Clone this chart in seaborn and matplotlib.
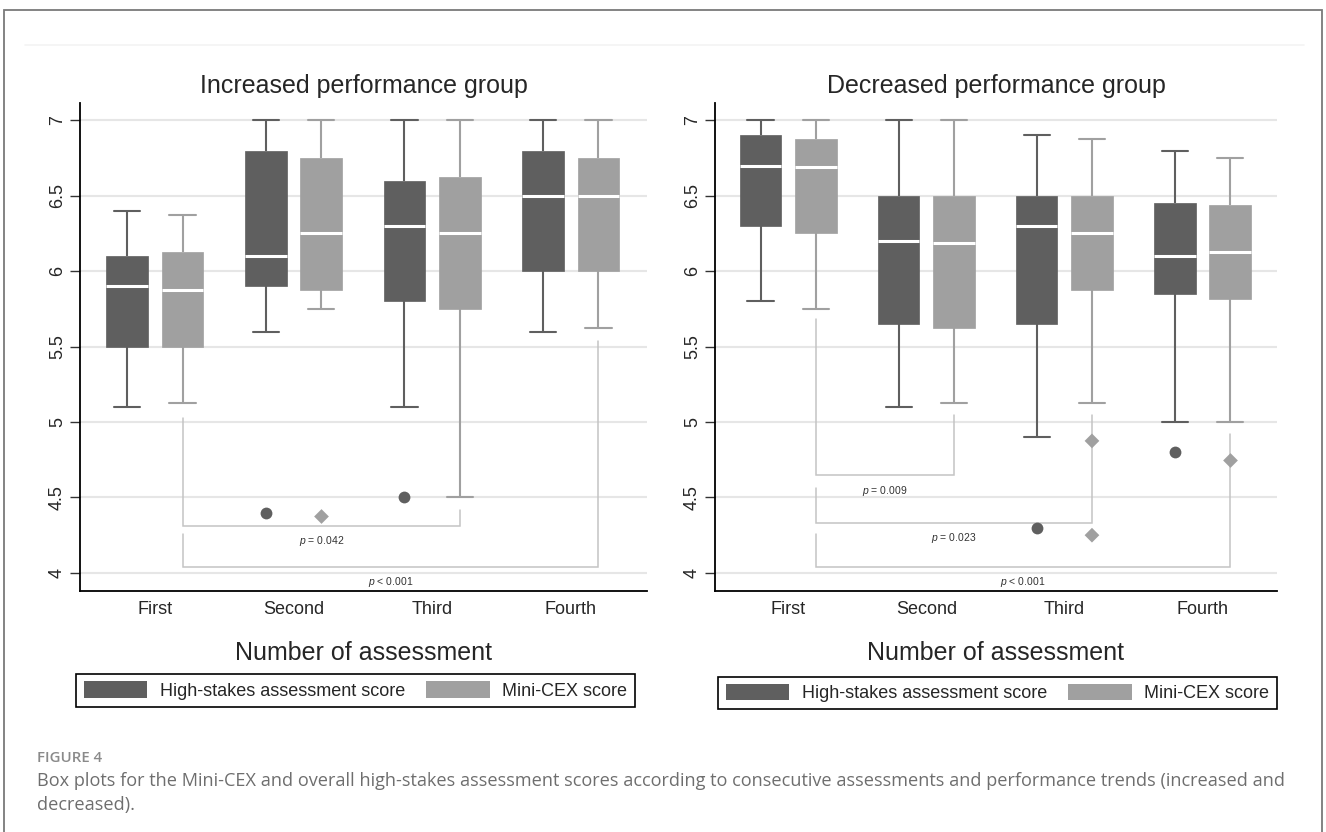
import numpy as np
import pandas as pd
import matplotlib
matplotlib.use("Agg")
import matplotlib.pyplot as plt
from matplotlib.patches import Patch, Rectangle
from matplotlib.lines import Line2D
import seaborn as sns

# ---------------- data ----------------
categories = ["First", "Second", "Third", "Fourth"]
series = ["High-stakes assessment score", "Mini-CEX score"]

# Increased performance group: whisker low, Q1, median, Q3, whisker high
inc_high_low = [5.1, 5.6, 5.1, 5.6]
inc_high_q1 = [5.5, 5.9, 5.8, 6.0]
inc_high_med = [5.9, 6.1, 6.3, 6.5]
inc_high_q3 = [6.1, 6.8, 6.6, 6.8]
inc_high_high = [6.4, 7.0, 7.0, 7.0]
inc_mini_low = [5.125, 5.75, 4.5, 5.625]
inc_mini_q1 = [5.5, 5.875, 5.75, 6.0]
inc_mini_med = [5.875, 6.25, 6.25, 6.5]
inc_mini_q3 = [6.125, 6.75, 6.625, 6.75]
inc_mini_high = [6.375, 7.0, 7.0, 7.0]
inc_high_outliers = [("Second", 4.4), ("Third", 4.5)]
inc_mini_outliers = [("Second", 4.375)]

# Decreased performance group
dec_high_low = [5.8, 5.1, 4.9, 5.0]
dec_high_q1 = [6.3, 5.65, 5.65, 5.85]
dec_high_med = [6.7, 6.2, 6.3, 6.1]
dec_high_q3 = [6.9, 6.5, 6.5, 6.45]
dec_high_high = [7.0, 7.0, 6.9, 6.8]
dec_mini_low = [5.75, 5.125, 5.125, 5.0]
dec_mini_q1 = [6.25, 5.625, 5.875, 5.8125]
dec_mini_med = [6.6875, 6.1875, 6.25, 6.125]
dec_mini_q3 = [6.875, 6.5, 6.5, 6.4375]
dec_mini_high = [7.0, 7.0, 6.875, 6.75]
dec_high_outliers = [("Third", 4.3), ("Fourth", 4.8)]
dec_mini_outliers = [("Third", 4.875), ("Third", 4.25), ("Fourth", 4.75)]

# significance brackets: (from, to, left top, right top, bottom, label)
inc_brackets = [
    ("First", "Third", 5.03, 4.42, 4.31, "0.042", "="),
    ("First", "Fourth", 4.26, 5.54, 4.04, "0.001", "<"),
]
dec_brackets = [
    ("First", "Second", 5.68, 5.045, 4.647, "0.009", "="),
    ("First", "Third", 4.56, 5.045, 4.33, "0.023", "="),
    ("First", "Fourth", 4.26, 4.92, 4.04, "0.001", "<"),
]

titles = ["Increased performance group", "Decreased performance group"]
x_title = "Number of assessment"
y_ticks = [4, 4.5, 5, 5.5, 6, 6.5, 7]
caption_head = "FIGURE 4"
caption_lines = [
    "Box plots for the Mini-CEX and overall high-stakes assessment scores according to consecutive assessments and performance trends (increased and",
    "decreased).",
]

# ---------------- styles ----------------
DARK = "#5f5f5f"
LIGHT = "#a0a0a0"
palette = {series[0]: DARK, series[1]: LIGHT}
W, H = 1326, 832

sns.set_style("white")
plt.rcParams["font.family"] = ["Liberation Sans", "DejaVu Sans"]
plt.rcParams["mathtext.fontset"] = "custom"
plt.rcParams["mathtext.it"] = "Liberation Sans:italic"
plt.rcParams["mathtext.rm"] = "Liberation Sans"


def box_frame(low, q1, med, q3, high, name):
    rows = []
    for i, c in enumerate(categories):
        for v in (low[i], q1[i], med[i], q3[i], high[i]):
            rows.append({"assessment": c, "series": name, "score": v})
    return pd.DataFrame(rows)


def out_frame(outs, name):
    return pd.DataFrame([{"assessment": c, "series": name, "score": v} for c, v in outs])


fig = plt.figure(figsize=(W / 100, H / 100), dpi=100)
ax1 = fig.add_axes([80 / W, 1 - 591 / H, 567 / W, 488 / H])
ax2 = fig.add_axes([715 / W, 1 - 591 / H, 562 / W, 488 / H])

panels = [
    (ax1,
     [box_frame(inc_high_low, inc_high_q1, inc_high_med, inc_high_q3, inc_high_high, series[0]),
      box_frame(inc_mini_low, inc_mini_q1, inc_mini_med, inc_mini_q3, inc_mini_high, series[1])],
     [out_frame(inc_high_outliers, series[0]), out_frame(inc_mini_outliers, series[1])],
     inc_brackets, titles[0], (-0.54, 3.55)),
    (ax2,
     [box_frame(dec_high_low, dec_high_q1, dec_high_med, dec_high_q3, dec_high_high, series[0]),
      box_frame(dec_mini_low, dec_mini_q1, dec_mini_med, dec_mini_q3, dec_mini_high, series[1])],
     [out_frame(dec_high_outliers, series[0]), out_frame(dec_mini_outliers, series[1])],
     dec_brackets, titles[1], (-0.53, 3.54)),
]

markers = ["o", "D"]
msizes = [8.5, 7.5]

for ax, boxes, outs, brackets, title, xlim in panels:
    for k, df in enumerate(boxes):
        col = palette[series[k]]
        sns.boxplot(data=df, x="assessment", y="score", hue="series",
                    order=categories, hue_order=series, palette=palette,
                    dodge=True, width=0.8, gap=0.25, whis=(0, 100),
                    linecolor=col, linewidth=1.5, legend=False, ax=ax,
                    medianprops={"color": "white", "linewidth": 2.2},
                    boxprops={"edgecolor": col, "linewidth": 0.5},
                    capwidths=0.19, zorder=3)
    for k, df in enumerate(outs):
        sns.stripplot(data=df, x="assessment", y="score", hue="series",
                      order=categories, hue_order=series, palette=palette,
                      dodge=True, jitter=False, marker=markers[k], size=msizes[k],
                      linewidth=0, legend=False, ax=ax, zorder=4)

    # brackets
    for a, b, ytl, ytr, yb, pv, op in brackets:
        xa = categories.index(a) + 0.2
        xb = categories.index(b) + 0.2
        ax.plot([xa, xa, xb, xb], [ytl, yb, yb, ytr], color="#c4c4c4", lw=1.1,
                zorder=2, solid_joinstyle="miter")
        ax.text((xa + xb) / 2, yb - 0.055, r"$\it{p}$ " + op + " " + pv,
                ha="center", va="top", fontsize=7.5, color="#333333")

    ax.set_xlim(*xlim)
    ax.set_ylim(3.88, 7.115)
    ax.set_yticks(y_ticks)
    ax.set_yticklabels([f"{v:g}" for v in y_ticks])
    ax.yaxis.grid(True, color="#e6e6e6", lw=1.5)
    ax.xaxis.grid(False)
    ax.set_axisbelow(True)
    for s in ["top", "right"]:
        ax.spines[s].set_visible(False)
    for s in ["left", "bottom"]:
        ax.spines[s].set_color("black")
        ax.spines[s].set_linewidth(1.3)
    ax.tick_params(axis="y", length=7, width=1, color="#333333", pad=3,
                   labelsize=13, labelrotation=90, left=True)
    for lab in ax.get_yticklabels():
        lab.set_va("center")
    ax.tick_params(axis="x", length=0, pad=7, labelsize=13)
    ax.set_ylabel("")
    ax.set_xlabel(x_title, fontsize=18, labelpad=17)
    ax.set_title(title, fontsize=18, pad=7)

# legends
handles = [Patch(facecolor=DARK, edgecolor="none"), Patch(facecolor=LIGHT, edgecolor="none")]
for cx, cy in [(355.5, 690.5), (997.5, 693)]:
    leg = fig.legend(handles, series, loc="center", bbox_to_anchor=(cx / W, 1 - cy / H),
                     ncol=2, frameon=True, fancybox=False, edgecolor="black",
                     framealpha=1, fontsize=13, handlelength=3.5, handleheight=1.0,
                     handletextpad=0.7, columnspacing=1.2, borderpad=0.4)
    leg.get_frame().set_linewidth(1.2)

# faint graph-region line and outer frame
fig.add_artist(Line2D([25 / W, 1304 / W], [1 - 45 / H, 1 - 45 / H], color="#f3f3f3", lw=1.2))
fig.add_artist(Rectangle((4 / W, -0.02), 1318 / W, 1.02 - 10 / H, fill=False,
                         edgecolor="#7a7a7a", lw=1.3, transform=fig.transFigure))

# caption
fig.text(37 / W, 1 - 758 / H, caption_head, fontsize=10.8, color="#8a8a8a",
         family=["Open Sans", "DejaVu Sans"], weight="semibold", va="center")
for i, line in enumerate(caption_lines):
    fig.text(37 / W, 1 - (781 + 24 * i) / H, line, fontsize=13.05, color="#6e6e6e",
             family=["Open Sans", "DejaVu Sans"], va="center")

fig.savefig("out.png", dpi=100)
